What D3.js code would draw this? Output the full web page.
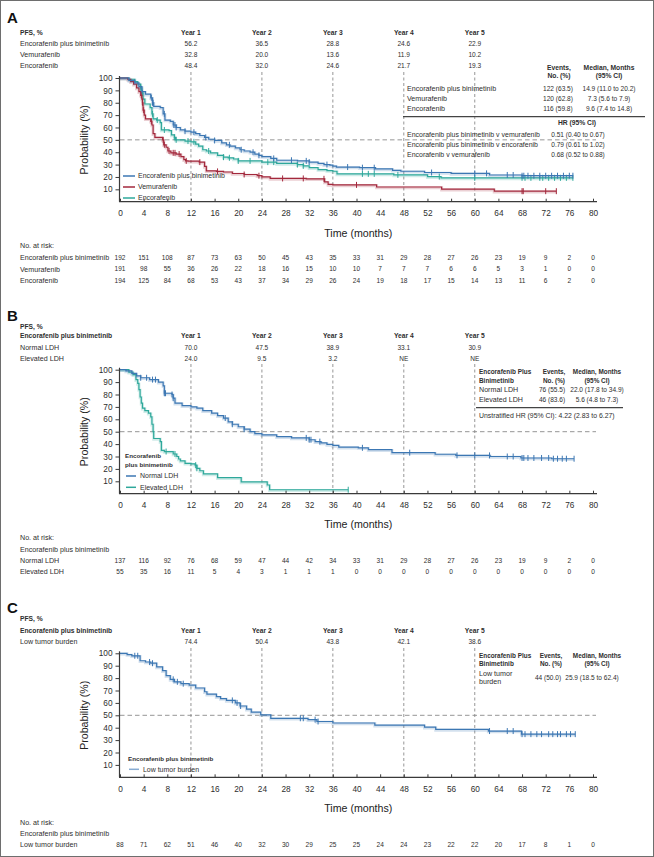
<!DOCTYPE html>
<html><head><meta charset="utf-8">
<script src="https://cdn.jsdelivr.net/npm/d3@7"></script>
<style>
html,body{margin:0;padding:0;background:#fff;}
svg{display:block;font-family:"Liberation Sans",Arial,sans-serif;}
</style></head><body>
<svg id="c" width="654" height="857"></svg>
<script>
// ---------------- DATA ----------------
const timeTicks = [0,4,8,12,16,20,24,28,32,36,40,44,48,52,56,60,64,68,72,76,80];
const yTicks = [10,20,30,40,50,60,70,80,90,100];
const yearLabels = ["Year 1","Year 2","Year 3","Year 4","Year 5"];
const yearMonths = [12,24,36,48,60];

// Panel A
const groupsA = ["Encorafenib plus binimetinib","Vemurafenib","Encorafenib"];
const pfsA_EB  = ["56.2","36.5","28.8","24.6","22.9"];
const pfsA_VEM = ["32.8","20.0","13.6","11.9","10.2"];
const pfsA_ENC = ["48.4","32.0","24.6","21.7","19.3"];
const eventsA = ["122 (63.5)","120 (62.8)","116 (59.8)"];
const medianA = ["14.9 (11.0 to 20.2)","7.3 (5.6 to 7.9)","9.6 (7.4 to 14.8)"];
const hrLabelsA = ["Encorafenib plus binimetinib v vemurafenib","Encorafenib plus binimetinib v encorafenib","Encorafenib v vemurafenib"];
const hrValuesA = ["0.51 (0.40 to 0.67)","0.79 (0.61 to 1.02)","0.68 (0.52 to 0.88)"];
const riskA_EB  = [192,151,108,87,73,63,50,45,43,35,33,31,29,28,27,26,23,19,9,2,0];
const riskA_VEM = [191,98,55,36,26,22,18,16,15,10,10,7,7,7,6,6,5,3,1,0,0];
const riskA_ENC = [194,125,84,68,53,43,37,34,29,26,24,19,18,17,15,14,13,11,6,2,0];
const kmA_EB = [[0,100],[1.5,98],[2.5,96],[3.2,93],[3.7,89],[4.3,87],[5.2,84],[5.5,80],[5.7,77],[6.8,76],[7.3,71],[7.6,66],[8.5,65],[9,62],[9.5,60],[10.2,58],[11,57],[12,56.2],[12.8,55],[13.5,53.5],[14.3,52],[15,50.5],[16,49.5],[17.2,47.5],[18,46],[18.6,45],[19.5,43.5],[20.3,42],[21,41],[22,40],[22.8,38.5],[23.5,37.5],[24,36.5],[25.5,35],[26.5,33.5],[30,33],[32,32],[33.5,31],[34.5,30],[35.5,29.5],[36,28.8],[36.6,28],[40.5,27.5],[43.2,26.5],[46.1,25.4],[47.5,24.6],[51.5,23.6],[56,22.9],[62.5,21.6],[68,21]];
const kmA_EB_end = 76.6;
const kmA_EB_cens = [5.3,5.5,5.6,7.5,9.1,9.3,9.5,11,12.5,14.5,16,18.5,20.5,22.5,23.5,26,29,31.5,32,35,38.5,41,43,52.7,60,62,65.5,66.5,68,68.3,69,70,71,72,73,74,75,76,76.6];
const kmA_VEM = [[0,100],[1.3,99],[1.8,97],[2.3,95],[2.8,92],[3.2,89],[3.5,86],[3.7,83],[3.8,80],[3.9,74],[4.1,70],[4.3,67],[5.2,65],[5.4,62],[5.6,55],[5.9,52],[7.2,50],[7.4,46],[7.8,44],[8.1,41],[8.6,39.5],[9.5,38.5],[10.3,36.5],[10.8,34],[11.1,33],[11.5,32.8],[13.4,32],[14.3,28.5],[14.6,25],[16.3,24.5],[17.5,24],[19,22.8],[21,22],[23.2,21],[24,20],[25.4,18.8],[31.5,18.5],[34.6,16],[35.2,14],[36,13.6],[43.4,11.9],[54.4,10.2],[63.3,8.5]];
const kmA_VEM_end = 73.8;
const kmA_VEM_cens = [3.6,3.8,4.0,5.3,7.3,7.5,8.3,9,9.3,10,11.2,13.5,16.5,21,23.5,27.5,31,34.5,40,68,68.2,72,73.8];
const kmA_ENC = [[0,100],[1.5,99],[2.5,97],[3.0,95],[3.5,92],[3.7,88],[3.9,83],[4.2,79],[5.1,76],[5.4,71],[5.6,67],[6.2,66],[6.8,64],[7.0,58],[8.3,57.5],[8.7,54],[9.2,52],[9.4,50],[11,49],[12,48.4],[12.8,46.5],[13.3,45],[14,42],[14.6,41],[15.3,39.5],[16.5,37.5],[17.5,36],[18.3,35.5],[19.2,34.5],[20,33],[24,32],[26.5,31],[30,30],[31,29],[32,27.5],[33.5,26],[35,25.2],[36,24.6],[36.7,22.5],[46.3,21.7],[52,20.3],[54.3,19.3]];
const kmA_ENC_end = 76.6;
const kmA_ENC_cens = [3.5,3.8,5.5,6.3,7.5,9.2,9.5,11.5,12.5,15,17.5,18.5,20,22,25,26,30,31,41,42,43,47,54,60,68,68.5,69.5,71,71.5,72.5,73.5,74.5,75.5,76.6];

// Panel B
const groupsB = ["Normal LDH","Elevated LDH"];
const pfsB_N = ["70.0","47.5","38.9","33.1","30.9"];
const pfsB_E = ["24.0","9.5","3.2","NE","NE"];
const eventsB = ["76 (55.5)","46 (83.6)"];
const medianB = ["22.0 (17.8 to 34.9)","5.6 (4.8 to 7.3)"];
const hrTextB = "Unstratified HR (95% CI): 4.22 (2.83 to 6.27)";
const riskB_N = [137,116,92,76,68,59,47,44,42,34,33,31,29,28,27,26,23,19,9,2,0];
const riskB_E = [55,35,16,11,5,4,3,1,1,1,0,0,0,0,0,0,0,0,0,0,0];
const kmB_N = [[0,100],[1,99],[2,97],[2.8,95],[3.5,93.5],[5,92],[6.5,90],[7.3,87],[7.5,81],[8.8,80],[9,77],[9.3,73],[10.5,71],[12,70],[13,69],[14,67],[15.5,65],[16.5,63],[17.5,61],[18.3,58],[19,56],[20,54],[21,52],[22,50],[22.8,48.5],[24,47.5],[26.5,46],[29,45],[32,43.5],[33,42],[34,41],[35,39.8],[36,38.9],[37,37.5],[40.3,37],[42,35.5],[46,33.1],[53.3,31.8],[56.8,30.9],[62.6,30],[67.8,28.8],[73,28.2]];
const kmB_N_end = 76.8;
const kmB_N_cens = [3.5,4.5,5.5,6,7.5,7.7,8.8,9,17.8,19,21,31.5,32,32.3,33.8,41,49,57,60,62.5,65.5,66.5,68,68.3,69,70,71.3,72.5,73.3,74,74.8,75.5,76.8];
const kmB_E = [[0,100],[1.5,98],[2.2,96],[2.7,92],[3,89],[3.2,84],[3.4,78],[3.6,73],[3.8,69],[4.2,67],[4.8,65],[5.2,62],[5.4,56],[5.6,50],[5.7,44.5],[6.8,42],[7,35],[7.5,34],[9,32],[9.6,30],[9.9,28],[10.2,26.5],[11,24.5],[12,24],[12.7,23],[13,20.5],[13.5,18.5],[14.1,16],[16.5,13],[20.5,9.5],[24.9,7],[25.3,3.2]];
const kmB_E_end = 38.6;
const kmB_E_cens = [7.8,9.3,12.8,13,38.6];

// Panel C
const groupsC = ["Low tumor burden"];
const pfsC_L = ["74.4","50.4","43.8","42.1","38.6"];
const eventsC = ["44 (50.0)"];
const medianC = ["25.9 (18.5 to 62.4)"];
const riskC_L = [88,71,62,51,46,40,32,30,29,25,25,24,24,23,22,22,20,17,8,1,0];
const kmC_L = [[0,100],[1.2,99],[2,98],[3.4,94],[4.3,93],[5.2,92],[6.2,89],[7.2,86],[7.8,82],[8.5,79],[9.2,77],[10.3,75.5],[11.7,74.4],[12.8,72],[14.3,69],[14.7,67],[16.3,65],[17,63.5],[18,62],[19.5,60],[20.3,57.5],[21.4,55],[22.2,52.5],[23.8,50.4],[25.5,47.6],[31.8,46.5],[33.3,45],[36,43.8],[43.1,42.1],[51.5,40.5],[53.4,38.6],[62.3,37.3],[67.9,34.8]];
const kmC_L_end = 77;
const kmC_L_cens = [2.5,3,5,5.5,9,9.7,10.7,19,19.8,20.4,30.5,31,33,33.5,62.5,65.5,66.5,68,68.5,69.5,70.5,71.3,72.5,73.2,74,74.5,75.5,76.2,77];

// ---------------- DRAWING ----------------
const BLUE = "#3c77b3", RED = "#a3283c", TEAL = "#2ea89b";
const TXT = "#2e2e2e";
const NUMF = 0.8, BOLDF = 0.82, TXTF = 0.87;
const REG = "'Liberation Sans', Arial, sans-serif";
const svg = d3.select("#c");
svg.append("rect").attr("x",0.5).attr("y",0.5).attr("width",653).attr("height",856)
  .attr("fill","#fff").attr("stroke","#6e6e6e").attr("stroke-width",1);

// detect an installed narrow face (used only if present)
function available(fam) {
  const t = svg.append("text").attr("font-size", 40).style("font-family", `'${fam}', monospace`).text("abcdefghijkmWwil");
  const w1 = t.node().getComputedTextLength();
  t.style("font-family", "monospace");
  const w2 = t.node().getComputedTextLength();
  t.remove();
  return Math.abs(w1 - w2) > 0.5;
}
let NARROW = null;
for (const f of ["Liberation Sans Narrow", "Arial Narrow"]) if (available(f)) { NARROW = f; break; }

// fit a text to a condensed width by choosing face + size (no glyph stretching)
function fit(node, base, f) {
  node.style.fontFamily = REG;
  node.setAttribute("font-size", base);
  const L = node.getComputedTextLength();
  if (!(L > 0)) return 0;
  const target = L * f;
  let size = base * f;
  if (NARROW) {
    node.style.fontFamily = `'${NARROW}', ${REG}`;
    const L2 = node.getComputedTextLength();
    size = Math.min(base * target / L2, base * 1.03);
  }
  node.setAttribute("font-size", size.toFixed(2));
  return node.getComputedTextLength();
}

const x = d3.scaleLinear().domain([0,80]).range([120,593]);

function T(g, px, py, s, o = {}) {
  const base = o.size || 8.2;
  const t = g.append("text").attr("x", px).attr("y", py).attr("dy", "0.35em")
    .attr("font-size", base).attr("fill", o.fill || TXT)
    .attr("text-anchor", o.anchor || "start").text(s);
  if (o.bold) t.attr("font-weight", "bold");
  if (o.f !== 0) fit(t.node(), base, o.f || (o.bold ? BOLDF : TXTF));
  return t;
}
function S(pts, t) { let s = pts[0][1]; for (const p of pts) if (p[0] <= t) s = p[1]; return s; }

function drawPanel(cfg) {
  const g = svg.append("g");
  const y = d3.scaleLinear().domain([0,100]).range([cfg.y0, cfg.y100]);
  T(g, 7, cfg.letterY, cfg.letter, {size: 15, bold: true, f: 0, fill: "#111"});
  T(g, 20, cfg.pfsY, "PFS, %", {bold: true});
  if (cfg.groupHdr) T(g, 20, cfg.yearY, cfg.groupHdr, {bold: true});
  yearLabels.forEach((l, i) => T(g, x(yearMonths[i]), cfg.yearY, l, {bold: true, anchor: "middle"}));
  cfg.pfsRows.forEach((r, j) => {
    T(g, 20, cfg.rowY[j], r.name);
    r.vals.forEach((v, i) => T(g, x(yearMonths[i]), cfg.rowY[j], v, {anchor: "middle", f: NUMF}));
  });
  // grid
  yearMonths.forEach(m => g.append("line").attr("x1", x(m)).attr("x2", x(m))
    .attr("y1", cfg.gridTop).attr("y2", cfg.y0).attr("stroke", "#8a8a8a")
    .attr("stroke-width", 0.9).attr("stroke-dasharray", "3,2.5"));
  g.append("line").attr("x1", x(0)).attr("x2", x(80) + 3).attr("y1", y(50)).attr("y2", y(50))
    .attr("stroke", "#8a8a8a").attr("stroke-width", 0.9).attr("stroke-dasharray", "4.5,3");
  // curves
  const line = d3.line().x(d => x(d[0])).y(d => y(d[1])).curve(d3.curveStepAfter);
  cfg.series.forEach(s => {
    const pts = s.pts.concat([[s.end, s.pts[s.pts.length - 1][1]]]);
    g.append("path").attr("d", line(pts)).attr("fill", "none").attr("stroke", s.color)
      .attr("stroke-width", 3).attr("stroke-opacity", 0.22).attr("transform", "translate(0,0.8)");
    g.append("path").attr("d", line(pts)).attr("fill", "none").attr("stroke", s.color).attr("stroke-width", 1.2);
    s.cens.forEach(c => {
      const yy = y(S(s.pts, c));
      g.append("line").attr("x1", x(c)).attr("x2", x(c)).attr("y1", yy - 3).attr("y2", yy + 3)
        .attr("stroke", s.color).attr("stroke-width", 1);
    });
  });
  // axes
  const gy = g.append("g").attr("transform", `translate(${x(0) - 0.5},0)`)
    .call(d3.axisLeft(y).tickValues(yTicks).tickSize(4).tickSizeOuter(0).tickPadding(3).tickFormat(d3.format("d")));
  gy.select(".domain").remove();
  gy.attr("font-family", null).attr("font-size", null);
  gy.selectAll(".tick line").attr("stroke", "#3a3a3a").attr("stroke-width", 1);
  gy.selectAll(".tick text").attr("fill", TXT).each(function () { fit(this, 9.4, 0.88); });
  g.append("line").attr("x1", x(0) - 0.5).attr("x2", x(0) - 0.5).attr("y1", cfg.y0).attr("y2", cfg.y100 - 2)
    .attr("stroke", "#3a3a3a").attr("stroke-width", 1.2);
  const gx = g.append("g").attr("transform", `translate(0,${cfg.y0})`)
    .call(d3.axisBottom(x).tickValues(timeTicks).tickSize(-3).tickSizeOuter(0).tickPadding(8.7));
  gx.select(".domain").remove();
  gx.attr("font-family", null).attr("font-size", null);
  gx.selectAll(".tick line").attr("stroke", "#3a3a3a").attr("stroke-width", 1);
  gx.selectAll(".tick text").attr("fill", TXT).each(function () { fit(this, 9.4, 0.88); });
  g.append("line").attr("x1", x(0) - 1).attr("x2", x(80) + 4).attr("y1", cfg.y0).attr("y2", cfg.y0)
    .attr("stroke", "#3a3a3a").attr("stroke-width", 1.2);
  // axis titles
  T(g, x(40.3), cfg.timeY, "Time (months)", {size: 12.5, anchor: "middle", fill: "#222", f: 0.85});
  T(g, 0, 0, "Probability (%)", {size: 12.5, anchor: "middle", fill: "#222", f: 0.85})
    .attr("transform", `translate(84,${(cfg.y0 + cfg.y100) / 2}) rotate(-90)`);
  // legend
  if (cfg.legendTitle) cfg.legendTitle.forEach((l, i) => T(g, cfg.legX0, cfg.legTitleY[i], l, {bold: true, size: 7.6}));
  cfg.legend.forEach((l, i) => {
    g.append("line").attr("x1", cfg.legX0 + 1).attr("x2", cfg.legX1).attr("y1", cfg.legY[i]).attr("y2", cfg.legY[i])
      .attr("stroke", l.color).attr("stroke-width", 1.5);
    T(g, cfg.legTX, cfg.legY[i], l.name, {size: 8});
  });
  // at risk
  T(g, 20, cfg.noRiskY, "No. at risk:");
  if (cfg.riskGroup) T(g, 20, cfg.riskGroupY, cfg.riskGroup);
  cfg.risk.forEach((r, j) => {
    T(g, 20, cfg.riskY[j], r.name);
    r.vals.forEach((v, i) => T(g, x(timeTicks[i]), cfg.riskY[j], String(v), {anchor: "middle", f: NUMF}));
  });
  return g;
}

// Panel A
const gA = drawPanel({
  letter: "A", letterY: 18, pfsY: 33, yearY: 33, rowY: [44, 55, 66], gridTop: 72, y100: 78, y0: 201.7,
  pfsRows: [{name: groupsA[0], vals: pfsA_EB}, {name: groupsA[1], vals: pfsA_VEM}, {name: groupsA[2], vals: pfsA_ENC}],
  series: [{pts: kmA_ENC, end: kmA_ENC_end, cens: kmA_ENC_cens, color: TEAL},
           {pts: kmA_VEM, end: kmA_VEM_end, cens: kmA_VEM_cens, color: RED},
           {pts: kmA_EB, end: kmA_EB_end, cens: kmA_EB_cens, color: BLUE}],
  legend: [{name: groupsA[0], color: BLUE}, {name: groupsA[1], color: RED}, {name: groupsA[2], color: TEAL}],
  legY: [176, 187, 198], legX0: 122, legX1: 135, legTX: 138,
  timeY: 233, noRiskY: 246,
  risk: [{name: groupsA[0], vals: riskA_EB}, {name: groupsA[1], vals: riskA_VEM}, {name: groupsA[2], vals: riskA_ENC}],
  riskY: [257.7, 269.2, 280.7]
});
// Table A
T(gA, 559, 67.5, "Events,", {bold: true, anchor: "middle"});
T(gA, 559, 76, "No. (%)", {bold: true, anchor: "middle"});
T(gA, 609, 67.5, "Median, Months", {bold: true, anchor: "middle"});
T(gA, 609, 76, "(95% CI)", {bold: true, anchor: "middle"});
groupsA.forEach((n, i) => {
  const yy = 88.5 + i * 10;
  T(gA, 407, yy, n);
  T(gA, 558, yy, eventsA[i], {anchor: "middle", f: NUMF});
  T(gA, 609, yy, medianA[i], {anchor: "middle", f: NUMF});
});
gA.append("line").attr("x1", 403).attr("x2", 645).attr("y1", 116.7).attr("y2", 116.7).attr("stroke", "#444").attr("stroke-width", 1.3);
T(gA, 577, 123, "HR (95% CI)", {bold: true, anchor: "middle"});
hrLabelsA.forEach((l, i) => {
  const yy = 135 + i * 10;
  T(gA, 407, yy, l, {f: 0.85});
  T(gA, 578, yy, hrValuesA[i], {anchor: "middle", f: NUMF});
});

// Panel B
const gB = drawPanel({
  letter: "B", letterY: 316, pfsY: 326.7, yearY: 336, groupHdr: "Encorafenib plus binimetinib",
  rowY: [347.5, 358.5], gridTop: 364, y100: 369.7, y0: 493.7,
  pfsRows: [{name: groupsB[0], vals: pfsB_N}, {name: groupsB[1], vals: pfsB_E}],
  series: [{pts: kmB_E, end: kmB_E_end, cens: kmB_E_cens, color: TEAL},
           {pts: kmB_N, end: kmB_N_end, cens: kmB_N_cens, color: BLUE}],
  legendTitle: ["Encorafenib", "plus binimetinib"], legTitleY: [456, 465],
  legend: [{name: groupsB[0], color: BLUE}, {name: groupsB[1], color: TEAL}],
  legY: [476, 487.3], legX0: 125, legX1: 136, legTX: 140,
  timeY: 524, noRiskY: 538, riskGroup: "Encorafenib plus binimetinib", riskGroupY: 549.3,
  risk: [{name: groupsB[0], vals: riskB_N}, {name: groupsB[1], vals: riskB_E}],
  riskY: [560.7, 572]
});
T(gB, 479, 372, "Encorafenib Plus", {bold: true, f: 0.78});
T(gB, 479, 380.5, "Binimetinib", {bold: true, f: 0.78});
T(gB, 554, 372, "Events,", {bold: true, anchor: "middle", f: 0.78});
T(gB, 554, 380.5, "No. (%)", {bold: true, anchor: "middle", f: 0.78});
T(gB, 597, 372, "Median, Months", {bold: true, anchor: "middle", f: 0.78});
T(gB, 597, 380.5, "(95% CI)", {bold: true, anchor: "middle", f: 0.78});
groupsB.forEach((n, i) => {
  const yy = 390 + i * 9.5;
  T(gB, 479, yy, n);
  T(gB, 552, yy, eventsB[i], {anchor: "middle", f: NUMF});
  T(gB, 597, yy, medianB[i], {anchor: "middle", f: NUMF});
});
gB.append("line").attr("x1", 476).attr("x2", 623).attr("y1", 407.7).attr("y2", 407.7).attr("stroke", "#444").attr("stroke-width", 1.3);
T(gB, 479, 416, hrTextB, {f: 0.84});

// Panel C
const gC = drawPanel({
  letter: "C", letterY: 608, pfsY: 619, yearY: 630.3, groupHdr: "Encorafenib plus binimetinib",
  rowY: [642], gridTop: 648, y100: 653.3, y0: 777.3,
  pfsRows: [{name: groupsC[0], vals: pfsC_L}],
  series: [{pts: kmC_L, end: kmC_L_end, cens: kmC_L_cens, color: BLUE}],
  legendTitle: ["Encorafenib plus binimetinib"], legTitleY: [759],
  legend: [{name: groupsC[0], color: "#86abd2"}],
  legY: [769.3], legX0: 128, legX1: 139, legTX: 143,
  timeY: 808, noRiskY: 822.3, riskGroup: "Encorafenib plus binimetinib", riskGroupY: 833.3,
  risk: [{name: groupsC[0], vals: riskC_L}],
  riskY: [845]
});
T(gC, 479, 656, "Encorafenib Plus", {bold: true, f: 0.78});
T(gC, 479, 664, "Binimetinib", {bold: true, f: 0.78});
T(gC, 551, 656, "Events,", {bold: true, anchor: "middle", f: 0.78});
T(gC, 551, 664, "No. (%)", {bold: true, anchor: "middle", f: 0.78});
T(gC, 597, 656, "Median, Months", {bold: true, anchor: "middle", f: 0.78});
T(gC, 597, 664, "(95% CI)", {bold: true, anchor: "middle", f: 0.78});
T(gC, 479, 673.5, "Low tumor");
T(gC, 479, 682, "burden");
T(gC, 548, 678, eventsC[0], {anchor: "middle", f: NUMF});
T(gC, 592, 678, medianC[0], {anchor: "middle", f: NUMF});
</script>
</body></html>
